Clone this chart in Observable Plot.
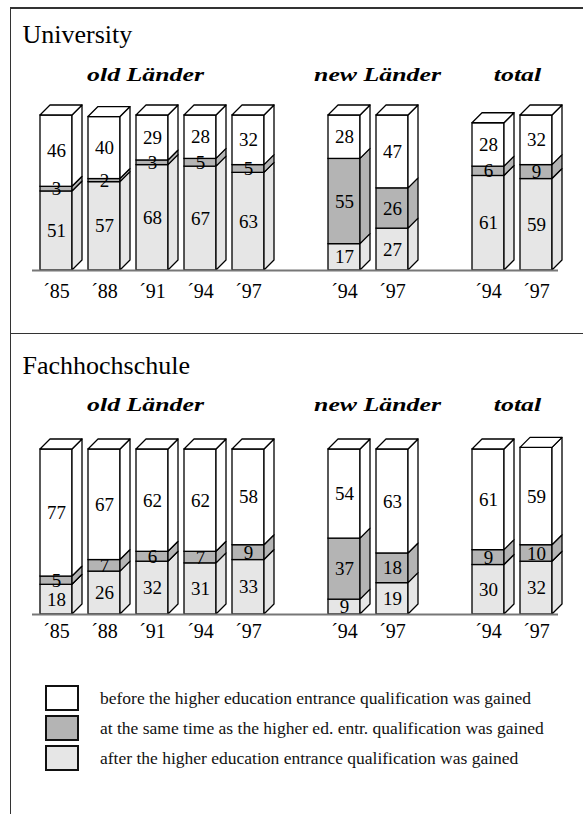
<!DOCTYPE html>
<html><head><meta charset="utf-8">
<script src="https://cdn.jsdelivr.net/npm/d3@7"></script>
<script src="https://cdn.jsdelivr.net/npm/@observablehq/plot@0.6"></script>
<style>
body{margin:0;background:#fff;}
#wrap{position:relative;width:583px;height:814px;font-family:"Liberation Serif","Times New Roman",serif;overflow:hidden;background:#fff;}
#wrap svg{position:absolute;left:0;font-family:"Liberation Serif","Times New Roman",serif;}
.ln{position:absolute;background:#333;z-index:5;}
.lg{position:absolute;left:0;width:583px;height:30px;}
.lg .box{position:absolute;left:45px;top:2px;width:30px;height:22px;border:2.5px solid #111;}
.lg .txt{position:absolute;left:100px;top:0;line-height:30px;font-size:17.5px;white-space:nowrap;color:#111;}
</style></head><body><div id="wrap"></div>
<script>
// ---- data ----
const years = ["´85","´88","´91","´94","´97","´94","´97","´94","´97"];
const groups = ["old Länder","old Länder","old Länder","old Länder","old Länder","new Länder","new Länder","total","total"];
const groupNames = ["old Länder","new Länder","total"];
const categories = [
  "before the higher education entrance qualification was gained",
  "at the same time as the higher ed. entr. qualification was gained",
  "after the higher education entrance qualification was gained"
];
const uniBefore = [46,40,29,28,32,28,47,28,32];
const uniSame   = [3,2,3,5,5,55,26,6,9];
const uniAfter  = [51,57,68,67,63,17,27,61,59];
const fhBefore  = [77,67,62,62,58,54,63,61,59];
const fhSame    = [5,7,6,7,9,37,18,9,10];
const fhAfter   = [18,26,32,31,33,9,19,30,32];

// ---- style / layout ----
const colors = ["#ffffff","#b4b4b4","#e6e6e6"];
const SLOT = 48, BAR_W = 32/48, DEPTH = 10;
const FONT = "Liberation Serif";
const groupDx = {"old Länder": -7, "new Länder": 9, "total": 5};

const wrap = document.getElementById("wrap");

function panel(before, same, after, cfg) {
  const rows = [], bars = [];
  years.forEach((yr, i) => {
    const gi = groupNames.indexOf(groups[i]);
    const slot = i + gi;
    bars.push({year: yr, slot, group: groups[i]});
    let acc = 0;
    [[categories[2], after[i]], [categories[1], same[i]], [categories[0], before[i]]].forEach(([cat, v], k) => {
      rows.push({bar: i, slot, cat, value: v, y1: acc, y2: acc + v, isTop: k === 2});
      acc += v;
    });
  });
  const gcenter = g => {
    const s = bars.filter(b => b.group === g).map(b => b.slot);
    return (d3.min(s) + d3.max(s) + BAR_W) / 2 + groupDx[g] / SLOT;
  };
  const minSlot = d3.min(bars, b => b.slot), maxSlot = d3.max(bars, b => b.slot);

  const faces = (index, scales, values, dims, ctx, next) => {
    const g = next(index, scales, values, dims, ctx);
    const {x1: X1, x2: X2, y1: Y1, y2: Y2, fill: F} = values;
    const ns = "http://www.w3.org/2000/svg";
    for (const i of index) {
      const x1 = Math.min(X1[i], X2[i]), x2 = Math.max(X1[i], X2[i]);
      const yb = Math.max(Y1[i], Y2[i]), yt = Math.min(Y1[i], Y2[i]);
      const side = document.createElementNS(ns, "path");
      side.setAttribute("d", `M${x2},${yb}L${x2+DEPTH},${yb-DEPTH}L${x2+DEPTH},${yt-DEPTH}L${x2},${yt}Z`);
      side.setAttribute("fill", F[i]); side.setAttribute("stroke", "#000"); side.setAttribute("stroke-width", 1.3);
      side.setAttribute("stroke-linejoin", "round");
      g.appendChild(side);
      if (rows[i].isTop) {
        const top = document.createElementNS(ns, "path");
        top.setAttribute("d", `M${x1},${yt}L${x1+DEPTH},${yt-DEPTH}L${x2+DEPTH},${yt-DEPTH}L${x2},${yt}Z`);
        top.setAttribute("fill", F[i]); top.setAttribute("stroke", "#000"); top.setAttribute("stroke-width", 1.3);
        top.setAttribute("stroke-linejoin", "round");
        g.appendChild(top);
      }
    }
    return g;
  };
  const stretch = (index, scales, values, dims, ctx, next) => {
    const g = next(index, scales, values, dims, ctx);
    g.querySelectorAll("text").forEach(t => t.setAttribute("transform", (t.getAttribute("transform") || "") + " scale(1.36,1)"));
    return g;
  };

  const chart = Plot.plot({
    width: 583, height: cfg.height, margin: 0,
    style: {background: "transparent", fontFamily: FONT, color: "#000"},
    x: {type: "linear", domain: [-40/SLOT, (583-40)/SLOT], axis: null},
    y: {domain: [0, 100], range: [cfg.baseline, cfg.baseline - 100*cfg.unitPx], axis: null},
    color: {domain: categories, range: colors},
    marks: [
      Plot.text([cfg.title], {frameAnchor: "top-left", text: d => d, dx: 22, dy: cfg.titleBaseline, lineAnchor: "bottom", textAnchor: "start", fontSize: 26, fontFamily: FONT, fill: "#000"}),
      Plot.text(groupNames, {x: g => gcenter(g), y: () => 0, text: d => d, dy: cfg.groupBaseline - cfg.baseline, lineAnchor: "bottom", fontSize: 19, fontWeight: "bold", fontStyle: "italic", fontFamily: FONT, fill: "#000", render: stretch}),
      Plot.rect(rows, {x1: "slot", x2: d => d.slot + BAR_W, y1: "y1", y2: "y2", fill: "cat", stroke: "#000", strokeWidth: 1.3, render: faces}),
      Plot.ruleY([{y: 0, a: minSlot - 8/SLOT, b: maxSlot + BAR_W + 6/SLOT}], {y: "y", x1: "a", x2: "b", stroke: "#777", strokeWidth: 2}),
      Plot.text(rows, {x: d => d.slot + BAR_W/2, y: d => (d.y1 + d.y2)/2, text: d => String(d.value), fontSize: 19, fontFamily: FONT, lineAnchor: "middle", fill: "#000"}),
      Plot.text(bars, {x: d => d.slot + BAR_W/2, y: () => 0, text: "year", dy: cfg.yearBaseline - cfg.baseline, lineAnchor: "bottom", fontSize: 20, fontFamily: FONT, fill: "#000"})
    ]
  });
  chart.style.top = cfg.top + "px";
  wrap.appendChild(chart);
}

panel(uniBefore, uniSame, uniAfter, {title: "University", top: 0, height: 333, baseline: 270, unitPx: 1.55, titleBaseline: 42, groupBaseline: 80, yearBaseline: 297});
panel(fhBefore, fhSame, fhAfter, {title: "Fachhochschule", top: 333, height: 481, baseline: 281, unitPx: 1.65, titleBaseline: 40, groupBaseline: 77, yearBaseline: 304});

// frame lines
[[10, 7, 1.3, 807], [10, 7, 573, 2], [10, 333, 573, 1.3]].forEach(([l, t, w, h]) => {
  const d = document.createElement("div");
  d.className = "ln";
  Object.assign(d.style, {left: l + "px", top: t + "px", width: w + "px", height: h + "px"});
  wrap.appendChild(d);
});

// legend
const legendTops = [683, 713, 743];
categories.forEach((c, i) => {
  const row = document.createElement("div");
  row.className = "lg";
  row.style.top = legendTops[i] + "px";
  row.innerHTML = `<div class="box" style="background:${colors[i]}"></div><div class="txt"></div>`;
  row.querySelector(".txt").textContent = c;
  wrap.appendChild(row);
});
</script></body></html>
